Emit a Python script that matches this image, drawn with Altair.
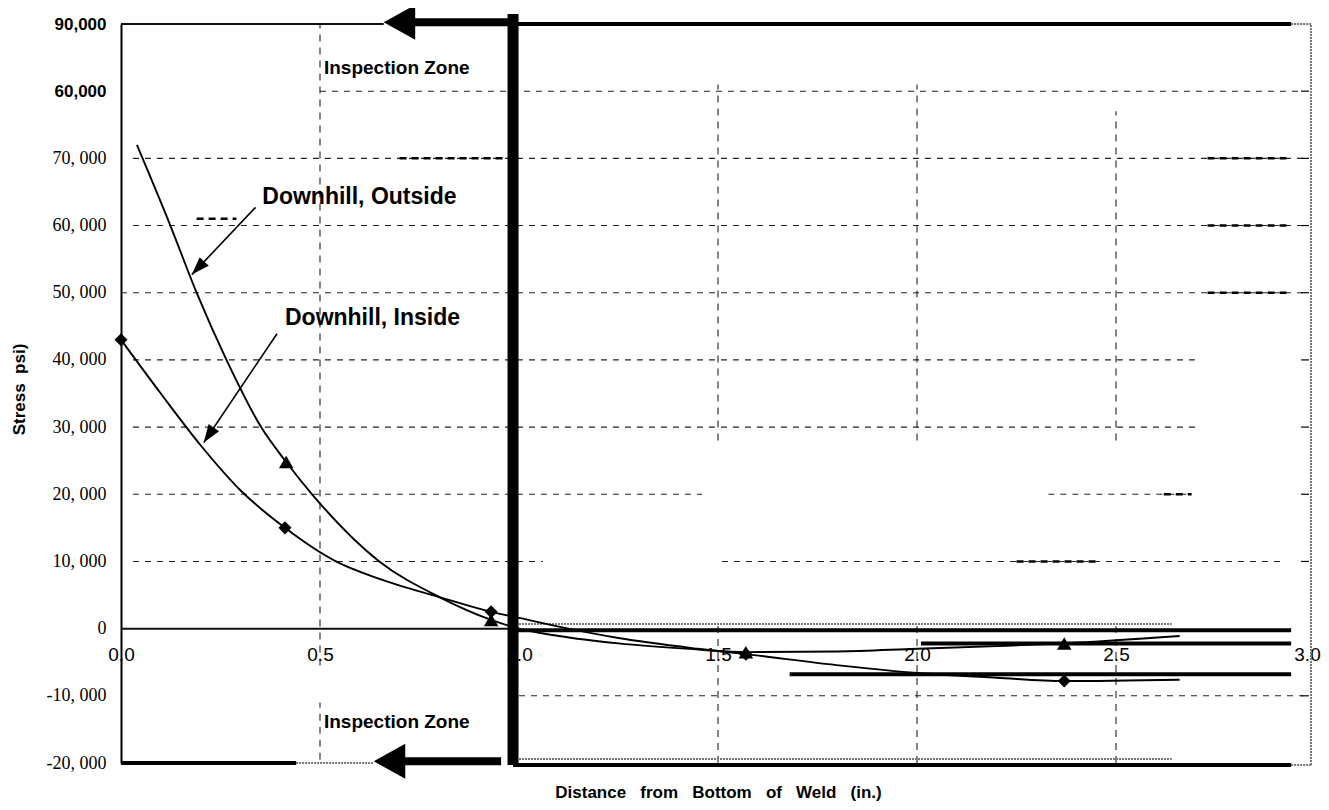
import math
import pandas as pd
import altair as alt

# ---------------- values ----------------
# Downhill, Outside (triangles): fitted curve and measured points
out_curve_x = [0.04, 0.124, 0.19, 0.265, 0.352, 0.415, 0.48, 0.649, 0.80, 0.93, 1.0, 1.1, 1.25, 1.45, 1.57, 1.8, 2.0, 2.2, 2.37, 2.66]
out_curve_y = [72000, 60000, 50000, 40000, 30000, 24800, 20000, 10000, 4700, 1300, 0, -1100, -2200, -3100, -3500, -3400, -3000, -2600, -2200, -1100]
out_mark_x = [0.415, 0.93, 1.57, 2.37]
out_mark_y = [24800, 1300, -3500, -2200]

# Downhill, Inside (diamonds): fitted curve and measured points
in_curve_x = [0.0, 0.1, 0.2, 0.3, 0.412, 0.54, 0.649, 0.80, 0.93, 1.0, 1.1, 1.25, 1.45, 1.57, 1.81, 2.0, 2.2, 2.37, 2.66]
in_curve_y = [43000, 35000, 27300, 20600, 15000, 10000, 7400, 4700, 2500, 1600, 300, -1400, -3000, -3800, -5500, -6600, -7300, -7800, -7600]
in_mark_x = [0.0, 0.412, 0.93, 1.57, 2.37]
in_mark_y = [43000, 15000, 2500, -3800, -7800]

# axis ticks and labels (as printed on the scan)
x_ticks = [0.0, 0.5, 1.0, 1.5, 2.0, 2.5, 3.0]
y_ticks = [-20000, -10000, 0, 10000, 20000, 30000, 40000, 50000, 60000, 70000, 80000, 90000]
y_tick_labels = ["-20, 000", "-10, 000", "0", "10, 000", "20, 000", "30, 000",
                 "40, 000", "50, 000", "60, 000", "70, 000", "60,000", "90,000"]

# dashed gridline segments
hgrid_y = [80000, 70000, 60000, 50000, 40000, 30000, 20000, 20000, 10000, 10000, -10000]
hgrid_x1 = [0.5, 0.03, 0.03, 0.0, 0.03, 0.03, 0.03, 2.33, 0.03, 1.51, 1.0]
hgrid_x2 = [2.97, 2.97, 2.97, 2.97, 2.70, 2.70, 1.46, 2.69, 1.06, 2.92, 2.97]
hbold_y = [70000, 70000, 61000, 60000, 50000, 20000, 10000]
hbold_x1 = [0.70, 2.73, 0.19, 2.73, 2.73, 2.62, 2.25]
hbold_x2 = [0.97, 2.94, 0.29, 2.94, 2.94, 2.69, 2.46]
vgrid_x = [0.5, 0.5, 1.5, 1.5, 2.0, 2.0, 2.5, 2.5]
vgrid_y1 = [-5500, -19500, 28000, -20000, 28000, -20000, 28000, -20000]
vgrid_y2 = [90000, -11000, 81000, 1000, 81000, 1000, 77000, 1000]
rtick_y = [80000, 70000, 60000, 50000, 40000, 30000, 20000, 10000, -10000]

# solid frame / reference lines seen on the scan
thin_x1 = [0.0, 0.0]
thin_x2 = [0.66, 0.985]
thin_y = [90000, 0]
gray_x1 = [0.985, 0.985, 0.44, 2.94, 2.94]
gray_x2 = [2.64, 2.64, 0.635, 2.99, 2.99]
gray_y = [700, -19400, -20000, 90000, -20300]
thick_x1 = [0.0, 0.985, 0.985, 0.985, 2.01, 1.68]
thick_x2 = [0.44, 2.94, 2.94, 2.94, 2.94, 2.94]
thick_y = [-20000, -20300, 90000, -250, -2200, -6800]
zone_line_x = [0.985]
zone_line_y1 = [-20300]
zone_line_y2 = [91500]

# "Inspection Zone" arrows
shaft_x1 = [0.72, 0.70]
shaft_x2 = [0.985, 0.955]
shaft_y = [90250, -19750]
head_x = [0.66, 0.635]
head_y = [90250, -19750]

# annotation arrows (tail -> head)
ann_tail_x = [0.338, 0.392]
ann_tail_y = [62700, 43900]
ann_head_x = [0.178, 0.208]
ann_head_y = [52700, 27700]

zone_text = ["Inspection Zone", "Inspection Zone"]
zone_x = [0.51, 0.51]
zone_y = [83450, -13900]
series_text = ["Downhill, Outside", "Downhill, Inside"]
series_x = [0.355, 0.412]
series_y = [64250, 46240]

# ---------------- chart ----------------
W, H = 1194, 739
X_DOM = [0, 3]
Y_DOM = [-20000, 90000]
XS = alt.Scale(domain=X_DOM, nice=False, zero=False)
YS = alt.Scale(domain=Y_DOM, nice=False, zero=False)
NB = "\u00a0"


def pad(v, lab):
    if v < 0:
        return lab + NB * 3
    if v >= 80000:
        return lab + NB
    return lab


label_expr = " : ".join(f"datum.value == {v} ? '{pad(v, l)}'" for v, l in zip(y_ticks, y_tick_labels)) + " : ''"
big = "datum.value >= 80000"

XAX = alt.Axis(values=x_ticks, format=".1f", grid=False, ticks=False, domain=False,
               offset=-134, labelPadding=16, labelFont="Liberation Sans", labelFontSize=19,
               labelColor="black", labelFlush=False, labelOverlap=False,
               labelOffset={"condition": {"test": "datum.value >= 3", "value": -8}, "value": 0},
               title=NB.join(["Distance", "", "", "from", "", "", "Bottom", "", "", "of", "", "", "Weld", "", "", "(in.)"]),
               titleFont="Liberation Sans", titleFontWeight="bold", titleFontSize=17,
               titleColor="black", titleY=163, titleBaseline="middle")
YAX = alt.Axis(values=y_ticks, labelExpr=label_expr, grid=False, ticks=False, domain=True,
               domainColor="black", domainWidth=2, labelPadding=15, labelOverlap=False,
               labelColor="black", labelBaseline="middle",
               labelFont={"condition": {"test": big, "value": "Liberation Sans"}, "value": "Liberation Serif"},
               labelFontWeight={"condition": {"test": big, "value": "bold"}, "value": "normal"},
               labelFontSize={"condition": {"test": big, "value": 17}, "value": 18},
               title="Stress" + NB * 2 + "psi)", titleFont="Liberation Sans", titleFontWeight="bold",
               titleFontSize=17, titleColor="black", titleX=-102, titleY=365, titleAngle=270,
               titleAlign="center", titleBaseline="middle")


def X(f):
    return alt.X(f, type="quantitative", scale=XS, axis=XAX)


def Y(f):
    return alt.Y(f, type="quantitative", scale=YS, axis=YAX)


def px(x, y):
    return (x - X_DOM[0]) / (X_DOM[1] - X_DOM[0]) * W, (Y_DOM[1] - y) / (Y_DOM[1] - Y_DOM[0]) * H


hgrid = alt.Chart(pd.DataFrame({"x": hgrid_x1, "x2": hgrid_x2, "y": hgrid_y})).mark_rule(
    color="#222", strokeWidth=1.1, strokeDash=[6, 6]).encode(x=X("x"), x2=alt.X2("x2"), y=Y("y"))
hbold = alt.Chart(pd.DataFrame({"x": hbold_x1, "x2": hbold_x2, "y": hbold_y})).mark_rule(
    color="black", strokeWidth=2.5, strokeDash=[7, 5]).encode(x=X("x"), x2=alt.X2("x2"), y=Y("y"))
vgrid = alt.Chart(pd.DataFrame({"x": vgrid_x, "y": vgrid_y1, "y2": vgrid_y2})).mark_rule(
    color="#222", strokeWidth=1.1, strokeDash=[7, 6]).encode(x=X("x"), y=Y("y"), y2=alt.Y2("y2"))
rticks = alt.Chart(pd.DataFrame({"y": rtick_y, "x": [2.965] * len(rtick_y), "x2": [2.985] * len(rtick_y)})).mark_rule(
    color="black", strokeWidth=1.2).encode(x=X("x"), x2=alt.X2("x2"), y=Y("y"))
thin = alt.Chart(pd.DataFrame({"x": thin_x1, "x2": thin_x2, "y": thin_y})).mark_rule(
    color="#111", strokeWidth=2).encode(x=X("x"), x2=alt.X2("x2"), y=Y("y"))
gray = alt.Chart(pd.DataFrame({"x": gray_x1, "x2": gray_x2, "y": gray_y})).mark_rule(
    color="#777", strokeWidth=2, strokeDash=[2, 1]).encode(x=X("x"), x2=alt.X2("x2"), y=Y("y"))
rborder = alt.Chart(pd.DataFrame({"x": [2.99], "y": [-20300], "y2": [90000]})).mark_rule(
    color="#777", strokeWidth=2, strokeDash=[2, 1]).encode(x=X("x"), y=Y("y"), y2=alt.Y2("y2"))
thick = alt.Chart(pd.DataFrame({"x": thick_x1, "x2": thick_x2, "y": thick_y})).mark_rule(
    color="black", strokeWidth=4).encode(x=X("x"), x2=alt.X2("x2"), y=Y("y"))
zone_line = alt.Chart(pd.DataFrame({"x": zone_line_x, "y": zone_line_y1, "y2": zone_line_y2})).mark_rule(
    color="black", strokeWidth=11).encode(x=X("x"), y=Y("y"), y2=alt.Y2("y2"))
shafts = alt.Chart(pd.DataFrame({"x": shaft_x1, "x2": shaft_x2, "y": shaft_y})).mark_rule(
    color="black", strokeWidth=8).encode(x=X("x"), x2=alt.X2("x2"), y=Y("y"))
heads = alt.Chart(pd.DataFrame({"x": head_x, "y": head_y})).mark_point(
    shape="M0,0 L1.8,-1 L1.8,1 Z", size=1225, filled=True, color="black", opacity=1).encode(x=X("x"), y=Y("y"))

line_out = alt.Chart(pd.DataFrame({"x": out_curve_x, "y": out_curve_y})).mark_line(
    interpolate="monotone", color="black", strokeWidth=1.9).encode(x=X("x"), y=Y("y"))
line_in = alt.Chart(pd.DataFrame({"x": in_curve_x, "y": in_curve_y})).mark_line(
    interpolate="monotone", color="black", strokeWidth=1.9).encode(x=X("x"), y=Y("y"))
mark_out = alt.Chart(pd.DataFrame({"x": out_mark_x, "y": out_mark_y})).mark_point(
    shape="triangle-up", size=210, filled=True, color="black", opacity=1).encode(x=X("x"), y=Y("y"))
mark_in = alt.Chart(pd.DataFrame({"x": in_mark_x, "y": in_mark_y})).mark_point(
    shape="diamond", size=170, filled=True, color="black", opacity=1).encode(x=X("x"), y=Y("y"))

ann_df = pd.DataFrame({"x": ann_tail_x, "y": ann_tail_y, "x2": ann_head_x, "y2": ann_head_y})
ann_lines = alt.Chart(ann_df).mark_rule(color="black", strokeWidth=1.6).encode(
    x=X("x"), y=Y("y"), x2=alt.X2("x2"), y2=alt.Y2("y2"))
angles = []
for tx, ty, hx, hy in zip(ann_tail_x, ann_tail_y, ann_head_x, ann_head_y):
    (ax, ay), (bx, by) = px(tx, ty), px(hx, hy)
    angles.append((math.degrees(math.atan2(bx - ax, -(by - ay))) + 360) % 360)
ann_heads = alt.Chart(pd.DataFrame({"x": ann_head_x, "y": ann_head_y, "ang": angles})).mark_point(
    shape="M0,0 L0.7,2 L-0.7,2 Z", size=324, filled=True, color="black", opacity=1).encode(
    x=X("x"), y=Y("y"), angle=alt.Angle("ang:Q", scale=None))

zone_txt = alt.Chart(pd.DataFrame({"x": zone_x, "y": zone_y, "t": zone_text})).mark_text(
    align="left", baseline="middle", font="Liberation Sans", fontWeight="bold", fontSize=19, color="black").encode(
    x=X("x"), y=Y("y"), text="t:N")
series_txt = alt.Chart(pd.DataFrame({"x": series_x, "y": series_y, "t": series_text})).mark_text(
    align="left", baseline="middle", font="Liberation Sans", fontWeight="bold", fontSize=23, color="black").encode(
    x=X("x"), y=Y("y"), text="t:N")

chart = alt.layer(
    hgrid, hbold, vgrid, rticks, thin, gray, rborder, thick, zone_line, shafts, heads,
    line_out, line_in, mark_out, mark_in, ann_lines, ann_heads, zone_txt, series_txt
).properties(
    width=W, height=H,
    autosize=alt.AutoSizeParams(type="none"),
    padding={"left": 113, "top": 16, "right": 6, "bottom": 39},
    background="white",
).configure_view(strokeWidth=0)

chart.save("out.html", embed_options={"renderer": "svg", "actions": False})
